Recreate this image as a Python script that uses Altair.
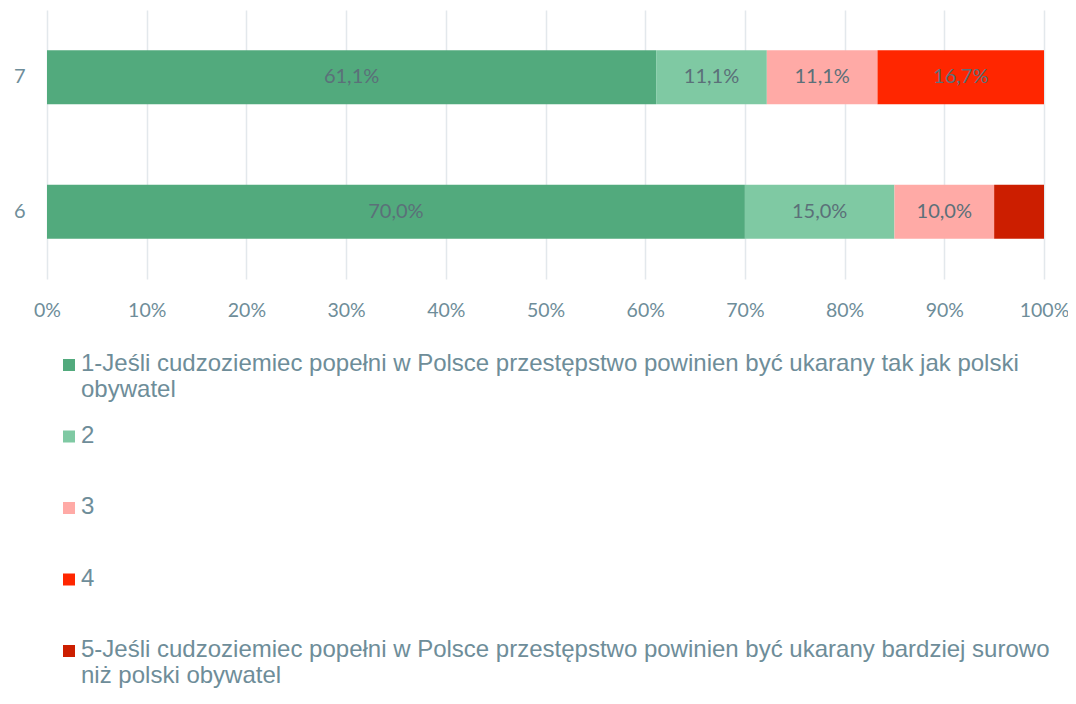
import altair as alt
import pandas as pd
import textwrap

rows = ["7", "6"]
categories = [
    "1-Jeśli cudzoziemiec popełni w Polsce przestępstwo powinien być ukarany tak jak polski obywatel",
    "2",
    "3",
    "4",
    "5-Jeśli cudzoziemiec popełni w Polsce przestępstwo powinien być ukarany bardziej surowo niż polski obywatel",
]
values_7 = [61.1, 11.1, 11.1, 16.7, 0.0]
values_6 = [70.0, 15.0, 10.0, 0.0, 5.0]
colors = ["#52AA7D", "#7FC9A3", "#FFAAA6", "#FF2600", "#CC1E00"]
ticks = [0, 10, 20, 30, 40, 50, 60, 70, 80, 90, 100]

records = []
for r, vals in zip(rows, [values_7, values_6]):
    for i, (c, v) in enumerate(zip(categories, vals)):
        records.append({"row": r, "cat": c, "order": i, "value": v,
                        "label": f"{v:.1f}".replace(".", ",") + "%"})
df = pd.DataFrame(records)

# legend label wrapping
expr = "datum.label"
for c in categories:
    lines = textwrap.wrap(c, 88)
    if len(lines) > 1:
        arr = "[" + ",".join("'" + l + "'" for l in lines) + "]"
        expr = f"datum.label == '{c}' ? {arr} : (" + expr + ")"

axis_color = "#6E8D99"

base = alt.Chart(df).transform_stack(
    stack="value", groupby=["row"], as_=["x0", "x1"], sort=[alt.SortField("order")]
).transform_calculate(mid="(datum.x0 + datum.x1) / 2")

y_enc = alt.Y("row:N", sort=rows, title=None,
              scale=alt.Scale(paddingInner=0.6, paddingOuter=0.3),
              axis=alt.Axis(labelFont="Lato", labelFontSize=20, labelColor=axis_color,
                            labelPadding=22, ticks=False, domain=False, grid=False))

bars = base.mark_bar().encode(
    x=alt.X("x0:Q", scale=alt.Scale(domain=[0, 100]), title=None,
            axis=alt.Axis(values=ticks, labelExpr="datum.value + '%'", labelFont="Lato",
                          labelFontSize=19.5, labelColor=axis_color, labelPadding=22,
                          labelFlush=False, labelOverlap=False,
                          ticks=False, domain=False, grid=True, gridColor="#E3E8EC",
                          gridWidth=1.5)),
    x2="x1:Q",
    y=y_enc,
    color=alt.Color("cat:N", sort=categories,
                    scale=alt.Scale(domain=categories, range=colors),
                    legend=alt.Legend(title=None, orient="none", legendX=10, legendY=349,
                                      direction="vertical", columns=1,
                                      symbolType="M-1,-2H1V0H-1Z", symbolSize=144,
                                      symbolStrokeWidth=0, labelOffset=0,
                                      labelFont="Liberation Sans", labelFontSize=24,
                                      labelColor=axis_color, labelLimit=1100,
                                      labelBaseline="alphabetic",
                                      gridAlign="all", rowPadding=21.5, padding=0,
                                      labelExpr=expr)),
)

texts = base.transform_filter("datum.value >= 8").mark_text(
    font="Lato", fontSize=20, color="#5B7079"
).encode(
    x=alt.X("mid:Q", scale=alt.Scale(domain=[0, 100])),
    y=alt.Y("row:N", sort=rows),
    text="label:N",
)

chart = alt.layer(bars, texts).properties(
    width=997, height=269,
    autosize=alt.AutoSizeParams(type="none"),
    padding={"left": 39, "top": 2, "right": 24, "bottom": 413},
).configure_view(stroke=None)

chart.save("out.html", embed_options={"renderer": "svg", "actions": False})
